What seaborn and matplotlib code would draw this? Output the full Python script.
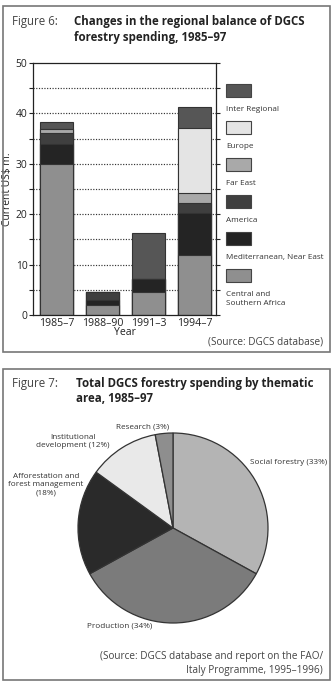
import numpy as np
import pandas as pd
import matplotlib
matplotlib.use("Agg")
import matplotlib.pyplot as plt
from matplotlib.patches import Rectangle
import seaborn as sns

# datos del gráfico de barras (millones US$)
periods = ["1985–7", "1988–90", "1991–3", "1994–7"]
central_africa = [30.0, 2.0, 4.5, 12.0]
mediterranean = [4.0, 1.0, 2.7, 8.3]
america = [2.2, 1.6, 0.0, 1.9]
far_east = [0.8, 0.0, 0.0, 2.0]
europe = [0.0, 0.0, 0.0, 12.9]
inter_regional = [1.2, 0.0, 9.0, 4.1]

regions = ["Central and\nSouthern Africa", "Mediterranean, Near East", "America",
           "Far East", "Europe", "Inter Regional"]
region_colors = ["#8f8f8f", "#242424", "#3f3f3f", "#a9a9a9", "#e4e4e4", "#565656"]

# datos del gráfico circular (%)
themes = ["Social forestry", "Production", "Afforestation and\nforest management",
          "Institutional\ndevelopment", "Research"]
theme_share = [33, 34, 18, 12, 3]
theme_colors = ["#b4b4b4", "#7b7b7b", "#2a2a2a", "#e9e9e9", "#8e8e8e"]
theme_labels = ["Social forestry (33%)", "Production (34%)",
                "Afforestation and\nforest management\n(18%)",
                "Institutional\ndevelopment (12%)", "Research (3%)"]

sns.set_theme(style="white")
plt.rcParams['font.family'] = ['Open Sans', 'DejaVu Sans']

W, H = 332, 683
fig = plt.figure(figsize=(W / 100, H / 100), dpi=100)


def fx(x):
    return x / W


def fy(y):
    return 1 - y / H


def ftext(x, y, s, **kw):
    fig.text(fx(x), fy(y), s, **kw)


# marcos de las dos figuras
for (x0, y0, x1, y1) in [(3, 6, 330, 352), (3, 369, 330, 680)]:
    fig.add_artist(Rectangle((fx(x0), fy(y1)), fx(x1 - x0), (y1 - y0) / H,
                             transform=fig.transFigure, fill=False,
                             edgecolor="#777777", linewidth=1.2))

# títulos
title_kw = dict(fontsize=8.3, va="center", ha="left")
ftext(12, 22, "Figure 6:", color="#444444", **title_kw)
ftext(74, 22, "Changes in the regional balance of DGCS", fontweight="bold", color="#222222", **title_kw)
ftext(74, 37, "forestry spending, 1985–97", fontweight="bold", color="#222222", **title_kw)
ftext(12, 384, "Figure 7:", color="#444444", **title_kw)
ftext(76, 384, "Total DGCS forestry spending by thematic", fontweight="bold", color="#222222", **title_kw)
ftext(76, 399, "area, 1985–97", fontweight="bold", color="#222222", **title_kw)

# ---- barras apiladas ----
ax = fig.add_axes([fx(33), fy(315), (216 - 33) / W, (315 - 63) / H])
layers = [central_africa, mediterranean, america, far_east, europe, inter_regional]
cum = np.cumsum(np.array(layers), axis=0)
df = pd.DataFrame(cum.T, columns=regions)
df["Year"] = periods

# dibujar de arriba hacia abajo para que cada capa tape la anterior
for i in range(len(regions) - 1, -1, -1):
    sns.barplot(data=df, x="Year", y=regions[i], color=region_colors[i],
                width=0.72, edgecolor="#333333", linewidth=0.8, saturation=1, ax=ax)

ax.set_xlim(-0.51, 3.47)
ax.set_ylim(0, 50)
ax.set_yticks(range(0, 51, 10))
ax.set_yticks(range(5, 50, 10), minor=True)
for g in range(5, 50, 5):
    ax.axhline(g, color="#333333", linestyle=(0, (1, 1.3)), linewidth=0.85, zorder=0)
ax.set_xticks(range(4))
ax.set_xticklabels(periods)
ax.set_xticks([0.5, 1.5, 2.5], minor=True)
ax.tick_params(axis="x", which="major", length=0, labelsize=7.6, pad=2, colors="#222222")
ax.tick_params(axis="x", which="minor", direction="in", length=5, width=1, color="#222222")
ax.tick_params(axis="y", which="both", left=True, right=True, direction="out",
               length=3, width=0.8, labelsize=7.4, pad=1, colors="#222222")
ax.set_xlabel("Year", fontsize=7.6, labelpad=-1, color="#222222")
ax.set_ylabel("Current US$ m.", fontsize=7.4, color="#222222")
ax.yaxis.set_label_coords(-0.108, 0.5)
for s in ax.spines.values():
    s.set_color("#222222")
    s.set_linewidth(0.9)

# leyenda: muestra con texto debajo
legend_rows = [(84, 106, 5), (121, 143, 4), (158, 180, 3), (195, 217, 2), (232, 254, 1), (269, 291, 0)]
for (py, ty, i) in legend_rows:
    fig.add_artist(Rectangle((fx(226), fy(py + 13)), 25 / W, 13 / H, transform=fig.transFigure,
                             facecolor=region_colors[i], edgecolor="#444444", linewidth=0.8))
    ftext(226, ty, regions[i], fontsize=5.9, va="top", ha="left", color="#333333", linespacing=1.35)

ftext(323, 342, "(Source: DGCS database)", fontsize=7.2, ha="right", va="center", color="#444444")

# ---- gráfico circular ----
cx, cy, r = 173, 528, 95
pax = fig.add_axes([fx(cx - r), fy(cy + r), 2 * r / W, 2 * r / H])
pax.pie(theme_share, colors=theme_colors, startangle=90, counterclock=False,
        wedgeprops=dict(edgecolor="#333333", linewidth=0.9))
pax.set_xlim(-1, 1)
pax.set_ylim(-1, 1)

label_pos = [(327, 462, "right", "center"), (120, 626, "center", "center"),
             (46, 473, "center", "top"), (73, 434, "center", "top"),
             (143, 427, "center", "center")]
for (txt, (lx, ly, ha, va)) in zip(theme_labels, label_pos):
    ftext(lx, ly, txt, fontsize=5.9, ha=ha, va=va, color="#333333", linespacing=1.25)

ftext(323, 656, "(Source: DGCS database and report on the FAO/", fontsize=7.2, ha="right", va="center", color="#444444")
ftext(323, 671, "Italy Programme, 1995–1996)", fontsize=7.2, ha="right", va="center", color="#444444")

fig.savefig("out.png", dpi=100)
